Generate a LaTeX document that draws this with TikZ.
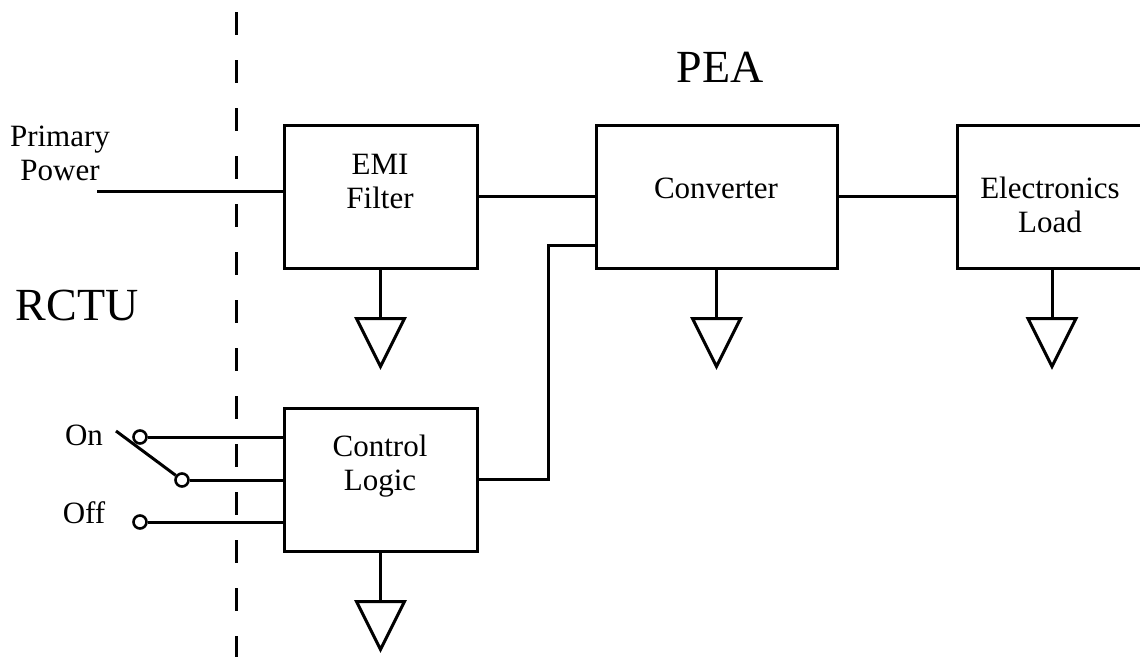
\documentclass[tikz,border=0pt]{standalone}
\usepackage{fontspec}
\setmainfont{Liberation Serif}
\begin{document}
\begin{tikzpicture}[x=1pt,y=-1pt,line width=3pt,
  blk/.style={draw, minimum height=143pt, inner sep=0pt},
  lbl/.style={font=\fontsize{31}{34}\selectfont, align=center, inner sep=0pt},
  big/.style={font=\fontsize{46}{50}\selectfont, inner sep=0pt},
  term/.style={circle, draw, fill=white, minimum size=13pt, inner sep=0pt, line width=2.6pt},
  pics/gnd/.style={code={
    \draw (0,0) -- (0,49);
    \draw[line join=miter] (-24,49) -- (24,49) -- (0,97) -- cycle;}}]
\path[use as bounding box] (0,0) rectangle (1140,656);

% boundary
\coordinate (dtop) at (236.5,12);
\coordinate (dbot) at (236.5,690);
\draw[dash pattern=on 23pt off 25pt] (dtop) -- (dbot);

% blocks
\node[blk, minimum width=193pt] (emi)  at (380.5,196.5) {};
\node[blk, minimum width=241pt] (conv) at (716.5,196.5) {};
\node[blk, minimum width=190pt] (load) at (1052,196.5) {};
\node[blk, minimum width=193pt] (ctl)  at (380.5,479.5) {};

% texts (base = baseline of the last line)
\node[lbl, anchor=base] (emit)  at (380,208) {EMI\\Filter};
\node[lbl, anchor=base] (convt) at (716,198) {Converter};
\node[lbl, anchor=base] (loadt) at (1050,232) {Electronics\\Load};
\node[lbl, anchor=base] (ctlt)  at (380,490) {Control\\Logic};
\node[lbl, anchor=base] (ppt)   at (60,180) {Primary\\Power};
\node[lbl, anchor=base] (ont)   at (84,445) {On};
\node[lbl, anchor=base] (offt)  at (84,523) {Off};
\node[big, anchor=base] (pea)   at (720,82) {PEA};
\node[big, anchor=base] (rctu)  at (77,320) {RCTU};

% power path
\coordinate (ppend) at (97,191);
\draw (ppend) -- (ppend -| emi.west);
\draw (emi.east) -- (conv.west);
\draw (conv.east) -- (load.west);

% control path
\coordinate (bend) at (548,245);
\draw (ctl.east) -| (bend) -- (bend -| conv.west);

% switch
\node[term] (on)  at (140,437) {};
\node[term] (sw)  at (182,480) {};
\node[term] (off) at (140,522) {};
\coordinate (lever) at (116,431);
\draw (on) -- (on -| ctl.west);
\draw (sw) -- (sw -| ctl.west);
\draw (off) -- (off -| ctl.west);
\draw (lever) -- (sw);

% grounds
\pic at (emi.south) {gnd};
\pic at (conv.south) {gnd};
\pic at (load.south) {gnd};
\pic at (ctl.south) {gnd};
\end{tikzpicture}
\end{document}
